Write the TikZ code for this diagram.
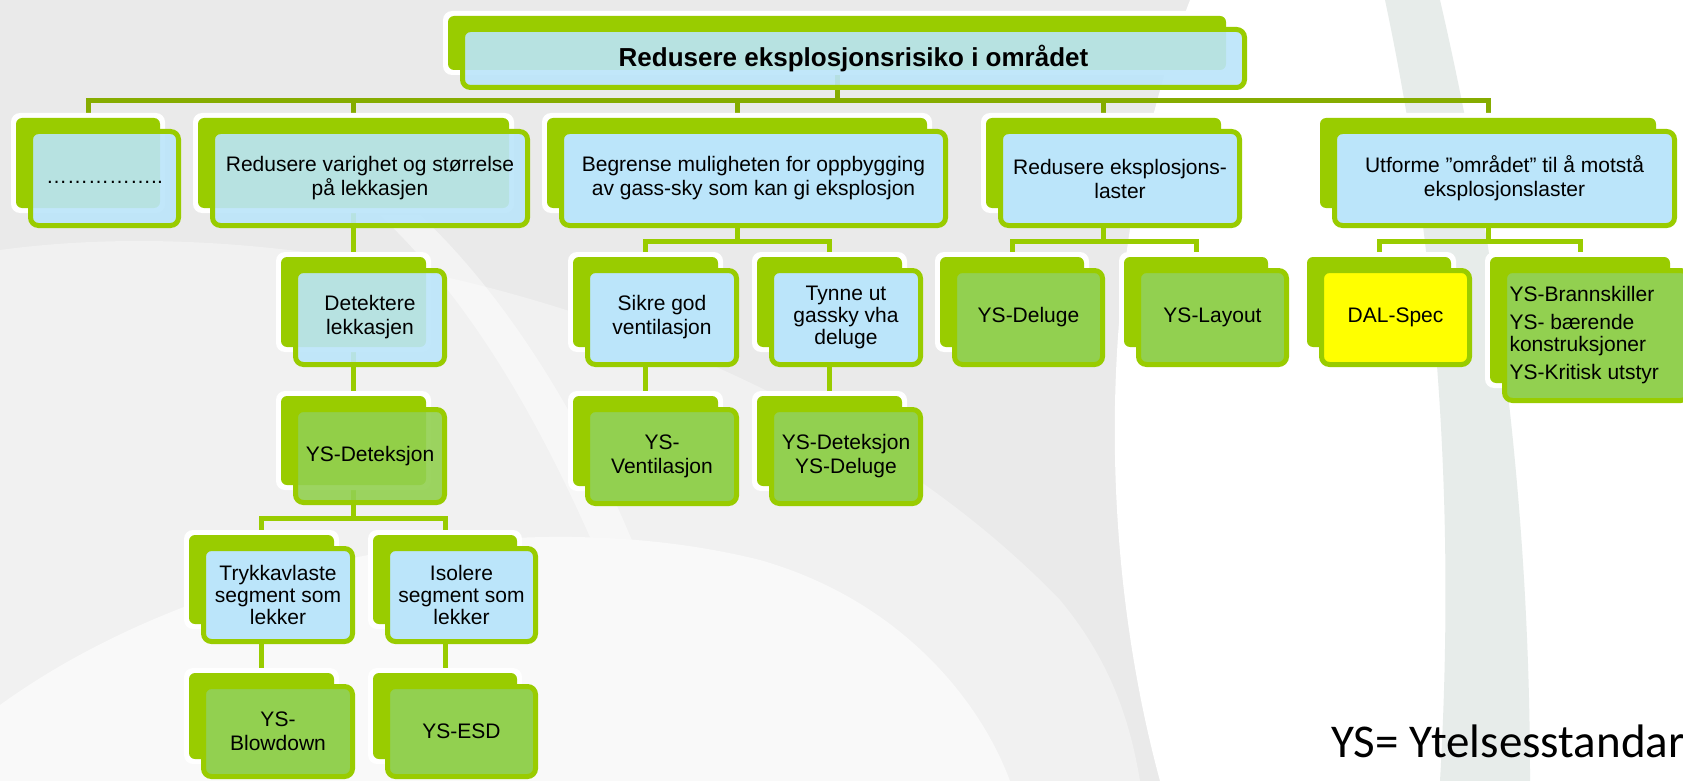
\documentclass[tikz,border=0pt]{standalone}
\usepackage{fontspec}
\setmainfont{Liberation Sans}
\newfontfamily\ysfont{Carlito}
\usetikzlibrary{calc}

\definecolor{lime}{HTML}{99CC00}
\definecolor{busgreen}{HTML}{86AC00}
\definecolor{skyfill}{HTML}{BBE5FA}
\definecolor{leaffill}{HTML}{92D050}
\definecolor{specfill}{HTML}{FFFF00}
\definecolor{bgmid}{HTML}{EAEAEA}
\definecolor{bglight}{HTML}{F1F1F1}
\definecolor{bgpale}{HTML}{F9F9F9}
\definecolor{bgband}{HTML}{E7ECEA}

\pgfdeclarelayer{paper}
\pgfdeclarelayer{links}
\pgfsetlayers{paper,links,main}

\newcommand\boxfont{\fontsize{21}{24}\selectfont}
\newcommand\tightfont{\fontsize{21}{22}\selectfont}
\newcommand\topfont{\bfseries\fontsize{26}{30}\selectfont}

\tikzset{
  halo/.style={fill=white, rounded corners=9pt, inner sep=0pt, outer sep=0pt},
  backbox/.style={fill=lime, rounded corners=6pt, inner sep=0pt, outer sep=0pt},
  frontbox/.style={draw=lime, line width=5pt, rounded corners=8pt, inner sep=0pt,
    outer sep=0pt, align=center, font=\boxfont, text=black},
  sky/.style={fill=skyfill},
  leaf/.style={fill=leaffill},
  spec/.style={fill=specfill},
  glass/.style={fill opacity=0.9, text opacity=1},
  link/.style={draw=lime, line width=5pt},
  toplink/.style={draw=busgreen, line width=5pt},
}

% #1 name, #2-#5 back plate (x0,y0,x1,y1), #6 front style, #7 label
\newcommand\ybox[7]{%
  \pgfmathsetmacro\bw{#4-#2}%
  \pgfmathsetmacro\bh{#5-#3}%
  \pgfmathsetmacro\bcx{(#2+#4)/2}%
  \pgfmathsetmacro\bcy{(#3+#5)/2}%
  \node[halo, minimum width=\bw pt+10pt, minimum height=\bh pt+10pt] (#1-h) at (\bcx,\bcy) {};
  \node[backbox, minimum width=\bw pt, minimum height=\bh pt] (#1) at (\bcx,\bcy) {};
  \node[frontbox, #6, minimum width=\bw pt+4pt, minimum height=\bh pt+4pt] (#1-f) at (\bcx+16.5,\bcy+15.5) {#7};
}

\begin{document}
\begin{tikzpicture}[x=1pt, y=-1pt]
\useasboundingbox (0,0) rectangle (1683,781);

% background swooshes
\begin{pgfonlayer}{paper}
  \fill[bgmid] (0,0) rectangle (1683,781);
  \fill[bglight] (0,250) .. controls (330,205) and (800,330) .. (1060,600) .. controls (1110,660) and (1130,720) .. (1140,781) -- (0,781) -- cycle;
  \fill[white, opacity=0.45] (380,215) .. controls (470,300) and (540,420) .. (600,560) -- (640,560) .. controls (580,410) and (500,290) .. (420,215) -- cycle;
  \fill[bgpale] (0,705) .. controls (200,560) and (520,500) .. (760,560) .. controls (900,600) and (980,700) .. (1010,781) -- (0,781) -- cycle;
  \fill[white] (1190,0) .. controls (1090,260) and (1100,560) .. (1160,781) -- (1683,781) -- (1683,0) -- cycle;
  \fill[bgband] (1385,0) .. controls (1440,260) and (1455,520) .. (1440,781) -- (1530,781) .. controls (1530,520) and (1500,260) .. (1440,0) -- cycle;
\end{pgfonlayer}

% level 0
\ybox{top}{448}{16}{1226}{70}{sky, glass, font=\topfont}{Redusere eksplosjonsrisiko i området}

% level 1
\ybox{dots}{16}{118}{160}{208}{sky, glass}{\strut……………..}
\ybox{shorten}{198}{118}{509}{208}{sky, glass}{Redusere varighet og størrelse\\på lekkasjen}
\ybox{limit}{547}{118}{927}{208}{sky}{Begrense muligheten for oppbygging\\av gass-sky som kan gi eksplosjon}
\ybox{loads}{986}{118}{1221}{208}{sky}{Redusere eksplosjons-\\laster}
\ybox{design}{1320}{118}{1656}{208}{sky}{Utforme ”området” til å motstå\\eksplosjonslaster}

% level 2
\ybox{detect}{281}{257}{426}{347}{sky, glass}{Detektere\\lekkasjen}
\ybox{vent}{573}{257}{718}{347}{sky}{Sikre god\\ventilasjon}
\ybox{dilute}{757}{257}{902}{347}{sky, font=\tightfont}{Tynne ut\\gassky vha\\deluge}
\ybox{deluge}{940}{257}{1084}{347}{leaf}{YS-Deluge}
\ybox{layout}{1124}{257}{1268}{347}{leaf}{YS-Layout}
\ybox{dal}{1307}{257}{1451}{347}{spec}{DAL-Spec}
\ybox{fire}{1490}{257}{1670}{383}{leaf}{}
\node[anchor=west, align=left, font=\tightfont] (fire-t) at (1506,335)
  {YS-Brannskiller\\[6pt]YS- bærende\\konstruksjoner\\[6pt]YS-Kritisk utstyr};

% level 3
\ybox{ysdet}{281}{396}{426}{485}{leaf, glass}{YS-Deteksjon}
\ybox{ysvent}{573}{396}{718}{486}{leaf}{YS-\\Ventilasjon}
\ybox{ysdd}{757}{396}{902}{486}{leaf}{YS-Deteksjon\\YS-Deluge}

% level 4
\ybox{blow}{189}{535}{334}{624}{sky, font=\tightfont}{Trykkavlaste\\segment som\\lekker}
\ybox{isol}{373}{535}{517}{624}{sky, font=\tightfont}{Isolere\\segment som\\lekker}

% level 5
\ybox{ysblow}{189}{673}{334}{759}{leaf}{YS-\\Blowdown}
\ybox{ysesd}{373}{673}{517}{759}{leaf}{YS-ESD}

% legend, running off the right edge
\node[anchor=base west, font=\ysfont\fontsize{47}{50}\selectfont, inner sep=0pt] (legend) at (1331,757) {YS= Ytelsesstandard};

% connectors
\coordinate (bus1) at (0,101);
\coordinate (bus2) at (0,241);
\coordinate (bus3) at (0,518);
\begin{pgfonlayer}{links}
  \foreach \c in {dots,shorten,limit,loads,design}
    \draw[toplink] (top.south) -- (top.south |- bus1) -| (\c.north);
  \draw[link] (shorten.south) -- (detect.north);
  \draw[link] (detect.south) -- (ysdet.north);
  \foreach \c in {blow,isol}
    \draw[link] (ysdet.south) -- (ysdet.south |- bus3) -| (\c.north);
  \draw[link] (blow.south) -- (ysblow.north);
  \draw[link] (isol.south) -- (ysesd.north);
  \foreach \c in {vent,dilute}
    \draw[link] (limit.south) -- (limit.south |- bus2) -| (\c.north);
  \draw[link] (vent.south) -- (ysvent.north);
  \draw[link] (dilute.south) -- (ysdd.north);
  \foreach \c in {deluge,layout}
    \draw[link] (loads.south) -- (loads.south |- bus2) -| (\c.north);
  \foreach \c in {dal,fire}
    \draw[link] (design.south) -- (design.south |- bus2) -| (\c.north);
\end{pgfonlayer}
\end{tikzpicture}
\end{document}
